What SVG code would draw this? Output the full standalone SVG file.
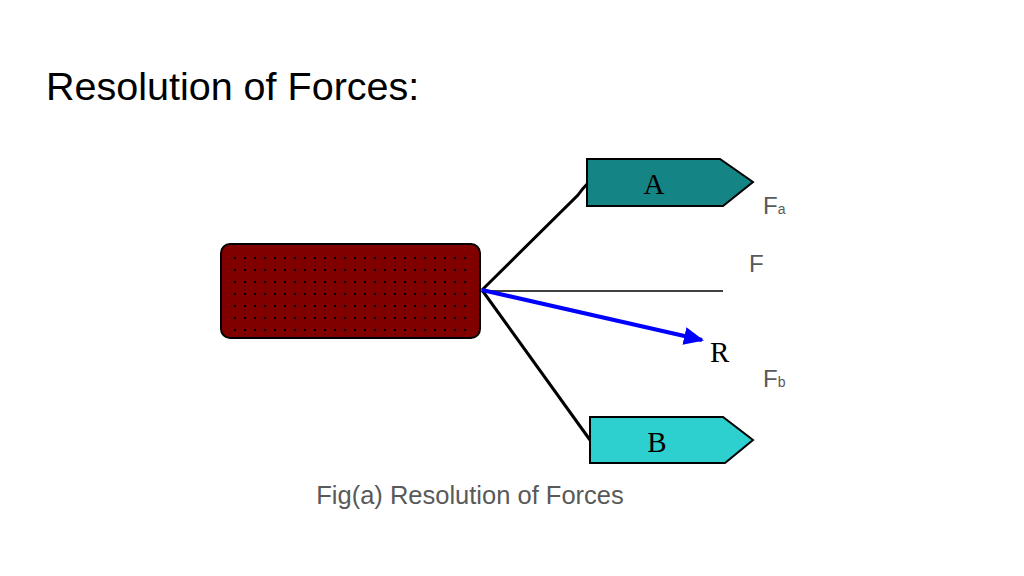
<svg xmlns="http://www.w3.org/2000/svg" width="1024" height="576" viewBox="0 0 1024 576">
<style>
.title{font-family:"Liberation Sans",Arial,sans-serif;font-size:39.5px;fill:#000}
.cap{font-family:"Liberation Sans",Arial,sans-serif;font-size:25.5px;fill:#595959}
.lbl{font-family:"Liberation Sans",Arial,sans-serif;font-size:24px;fill:#595959}
.sub{font-size:14px}
.ser{font-family:"Liberation Serif","Times New Roman",serif;font-size:29px;fill:#000}
</style>
<defs>
<pattern id="dots" width="10" height="12" patternUnits="userSpaceOnUse">
<rect x="4" y="5" width="2" height="2" fill="#000"/>
</pattern>
<marker id="ah" markerWidth="20" markerHeight="18" refX="18" refY="9" orient="auto" markerUnits="userSpaceOnUse">
<path d="M0,0 L20,9 L0,18 z" fill="#0000ff"/>
</marker>
</defs>
<rect width="1024" height="576" fill="#fff"/>
<text class="title" x="46" y="100">Resolution of Forces:</text>
<g id="connectors" fill="none">
<path d="M482,290 L578,195 Q583,188 588,183" stroke="#000" stroke-width="3"/>
<path d="M482,290 L590,440" stroke="#000" stroke-width="3"/>
<path d="M482,291 L723,291" stroke="#000" stroke-width="1.5"/>
<path d="M482,290 L702,340" stroke="#0000ff" stroke-width="4" marker-end="url(#ah)"/>
</g>
<g id="body">
<rect x="221" y="244" width="259" height="94" rx="9" fill="#800000" stroke="#000" stroke-width="2"/>
<rect x="228" y="250" width="245" height="82" fill="url(#dots)"/>
</g>
<g id="nodeA">
<path d="M587,159 L720,159 L753,182 L723,206 L587,206 Z" fill="#148484" stroke="#000" stroke-width="2"/>
<text class="ser" x="654" y="194" text-anchor="middle">A</text>
</g>
<g id="nodeB">
<path d="M590,417 L723,417 L753,440 L725,463 L590,463 Z" fill="#2ecfcf" stroke="#000" stroke-width="2"/>
<text class="ser" x="657" y="452" text-anchor="middle">B</text>
</g>
<g id="labels">
<text class="lbl" x="763" y="214">F<tspan class="sub">a</tspan></text>
<text class="lbl" x="749" y="272">F</text>
<text class="ser" x="710" y="362">R</text>
<text class="lbl" x="763" y="387">F<tspan class="sub">b</tspan></text>
</g>
<text class="cap" x="470" y="504" text-anchor="middle">Fig(a) Resolution of Forces</text>
</svg>
